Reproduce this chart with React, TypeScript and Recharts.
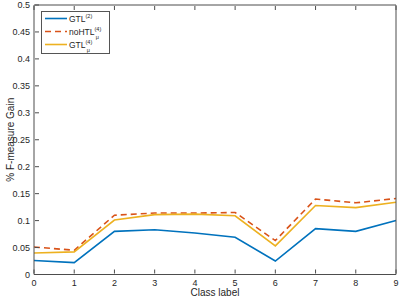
import { LineChart, Line, XAxis, YAxis, Legend } from "recharts";

const classLabels = [0, 1, 2, 3, 4, 5, 6, 7, 8, 9];
const gtl2 = [0.026, 0.022, 0.08, 0.083, 0.077, 0.069, 0.025, 0.085, 0.08, 0.1];
const noHtl4 = [0.051, 0.045, 0.11, 0.114, 0.114, 0.115, 0.063, 0.14, 0.133, 0.141];
const gtl4 = [0.04, 0.042, 0.101, 0.111, 0.112, 0.109, 0.053, 0.128, 0.124, 0.134];
const yTicks = [0, 0.05, 0.1, 0.15, 0.2, 0.25, 0.3, 0.35, 0.4, 0.45, 0.5];

const data = classLabels.map((c, i) => ({
  cls: c,
  gtl2: gtl2[i],
  noHtl4: noHtl4[i],
  gtl4: gtl4[i],
}));

const FONT = '"Liberation Sans", Arial, Helvetica, sans-serif';
const AXIS = "#4d4d4d";
const TEXT = "#262626";
const TICK_LEN = 4;

const fmt = (v: number) => String(+v.toFixed(2));

// ticks point inward (matlab style), labels sit outside the box
function BottomTick({ x, y, payload }: any) {
  return (
    <g>
      <line x1={x} x2={x} y1={y - 1} y2={y - 1 - TICK_LEN} stroke={AXIS} />
      <text x={x} y={y + 11} textAnchor="middle" fontSize={9} fontFamily={FONT} fill={TEXT}>
        {fmt(payload.value)}
      </text>
    </g>
  );
}

function TopTick({ x, y }: any) {
  return <line x1={x} x2={x} y1={y + 1} y2={y + 1 + TICK_LEN} stroke={AXIS} />;
}

function LeftTick({ x, y, payload }: any) {
  return (
    <g>
      <line x1={x + 1} x2={x + 1 + TICK_LEN} y1={y} y2={y} stroke={AXIS} />
      <text x={x - 4} y={y + 3} textAnchor="end" fontSize={9} fontFamily={FONT} fill={TEXT}>
        {fmt(payload.value)}
      </text>
    </g>
  );
}

function RightTick({ x, y }: any) {
  return <line x1={x - 1} x2={x - 1 - TICK_LEN} y1={y} y2={y} stroke={AXIS} />;
}

const legendRows = [
  { key: "gtl2", name: "GTL", sup: "(2)", sub: "", color: "#0072BD", dash: "" },
  { key: "noHtl4", name: "noHTL", sup: "(4)", sub: "μ", color: "#D95319", dash: "6 4" },
  { key: "gtl4", name: "GTL", sup: "(4)", sub: "μ", color: "#EDB120", dash: "" },
];

function LegendBox() {
  return (
    <svg width={69} height={43} style={{ display: "block" }}>
      <rect x={0.5} y={0.5} width={68} height={42} fill="#fff" stroke="#555" strokeWidth={1} />
      {legendRows.map((r, i) => {
        const cy = 7.5 + i * 13;
        return (
          <g key={r.key}>
            <line x1={4} x2={26} y1={cy} y2={cy} stroke={r.color} strokeWidth={1.6} strokeDasharray={r.dash || undefined} />
            <text x={28} y={cy + 3} fontSize={8.5} fontFamily={FONT} fill={TEXT}>
              <tspan>{r.name}</tspan>
              <tspan fontSize={5.5} dy={-4}>{r.sup}</tspan>
              {r.sub && (
                <tspan fontSize={5.5} dx={-5.5} dy={8}>{r.sub}</tspan>
              )}
            </text>
          </g>
        );
      })}
    </svg>
  );
}

export default function App() {
  return (
    <div style={{ position: "absolute", left: 0, top: 0, background: "#fff" }}>
      <LineChart
        width={399}
        height={299}
        data={data}
        margin={{ top: 4, right: 2, bottom: 23.5, left: 33 }}
      >
        <XAxis
          dataKey="cls"
          type="number"
          domain={[0, 9]}
          ticks={classLabels}
          height={1}
          tickSize={0}
          tickMargin={0}
          tickLine={false}
          stroke={AXIS}
          tick={<BottomTick />}
          interval={0}
          label={{ value: "Class label", position: "bottom", offset: 13, fontSize: 10, fontFamily: FONT, fill: TEXT }}
        />
        <XAxis
          xAxisId="top"
          orientation="top"
          dataKey="cls"
          type="number"
          domain={[0, 9]}
          ticks={classLabels}
          height={1}
          tickSize={0}
          tickMargin={0}
          tickLine={false}
          stroke={AXIS}
          tick={<TopTick />}
          interval={0}
        />
        <YAxis
          type="number"
          domain={[0, 0.5]}
          ticks={yTicks}
          width={1}
          tickSize={0}
          tickMargin={0}
          tickLine={false}
          stroke={AXIS}
          tick={<LeftTick />}
          interval={0}
          label={{
            value: "% F-measure Gain",
            angle: -90,
            position: "left",
            offset: 23,
            fontSize: 10,
            fontFamily: FONT,
            fill: TEXT,
            style: { textAnchor: "middle" },
          }}
        />
        <YAxis
          yAxisId="right"
          orientation="right"
          type="number"
          domain={[0, 0.5]}
          ticks={yTicks}
          width={1}
          tickSize={0}
          tickMargin={0}
          tickLine={false}
          stroke={AXIS}
          tick={<RightTick />}
          interval={0}
        />
        <Legend
          layout="vertical"
          align="center"
          verticalAlign="middle"
          wrapperStyle={{ left: 41, top: 11, width: 69, height: 43 }}
          content={() => <LegendBox />}
        />
        <Line dataKey="gtl2" name="GTL(2)" stroke="#0072BD" strokeWidth={1.6} dot={false} isAnimationActive={false} />
        <Line dataKey="noHtl4" name="noHTL(4)" stroke="#D95319" strokeWidth={1.6} strokeDasharray="6 4" dot={false} isAnimationActive={false} />
        <Line dataKey="gtl4" name="GTL(4)" stroke="#EDB120" strokeWidth={1.6} dot={false} isAnimationActive={false} />
      </LineChart>
    </div>
  );
}
